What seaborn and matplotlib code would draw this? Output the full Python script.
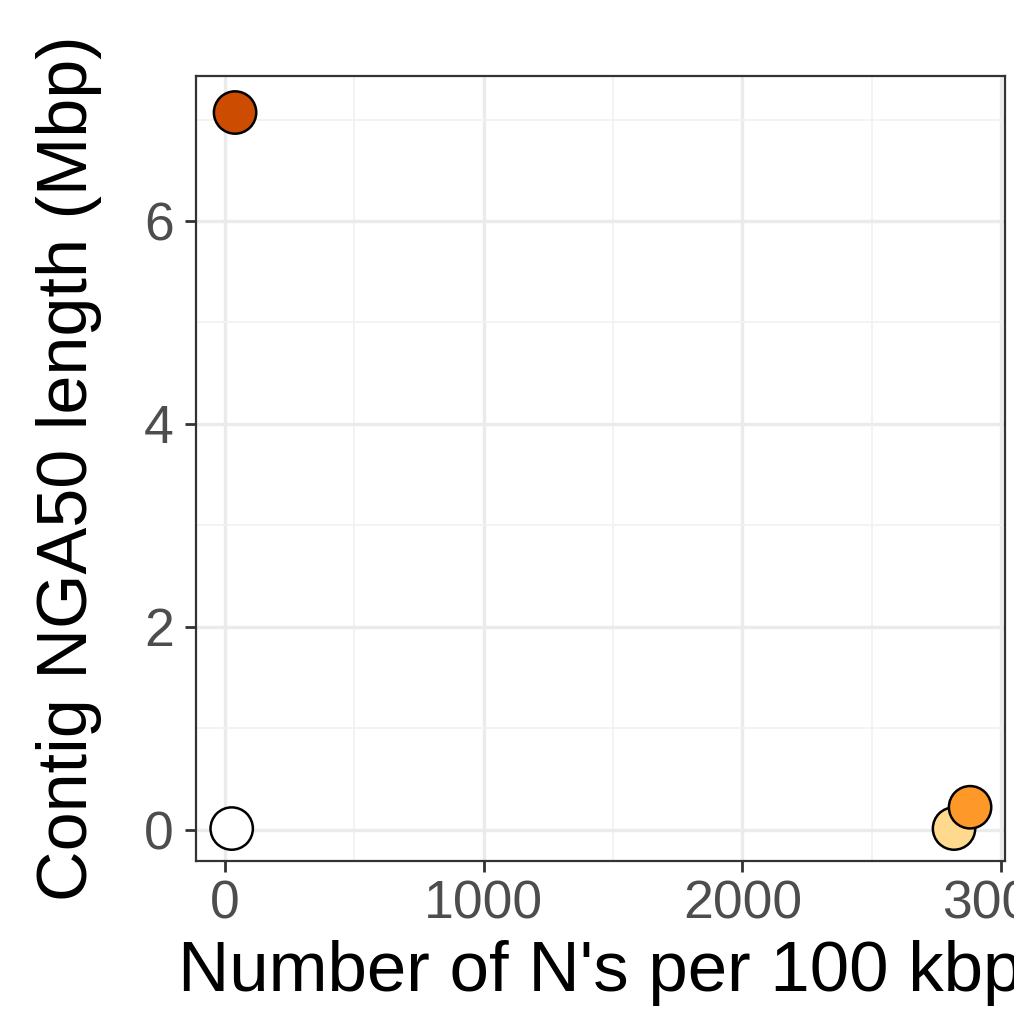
import matplotlib
matplotlib.use("Agg")
import matplotlib.pyplot as plt
import seaborn as sns
import pandas as pd
from matplotlib.ticker import MultipleLocator

# Assembly summary: gap density vs contig NGA50
assembly = ["A", "B", "C", "D"]
n_per_100kbp = [26, 39, 2818, 2880]
nga50_mbp = [0.01, 7.07, 0.01, 0.22]
fill_colors = ["#FFFFFF", "#CC4C02", "#FED98E", "#FE9929"]

df = pd.DataFrame({"assembly": assembly, "ns": n_per_100kbp, "nga50": nga50_mbp})

sns.set_theme(style="white")
plt.rcParams["font.family"] = ["Liberation Sans", "DejaVu Sans"]

fig = plt.figure(figsize=(10.14, 10.11), dpi=100)
W, H = 1014, 1011
ax = fig.add_axes([196 / W, 1 - 861 / H, (1005 - 196) / W, (861 - 76) / H])

sns.scatterplot(data=df, x="ns", y="nga50", hue="assembly", palette=fill_colors,
                s=930, edgecolor="black", linewidth=1.8, legend=False, ax=ax, zorder=3)

ax.set_xlim(-112, 3015)
ax.set_ylim(-0.31, 7.43)
ax.xaxis.set_major_locator(MultipleLocator(1000))
ax.xaxis.set_minor_locator(MultipleLocator(500))
ax.yaxis.set_major_locator(MultipleLocator(2))
ax.yaxis.set_minor_locator(MultipleLocator(1))

ax.grid(which="major", color="#EBEBEB", linewidth=2.4)
ax.grid(which="minor", color="#F2F2F2", linewidth=1.3)
ax.set_axisbelow(True)

for sp in ax.spines.values():
    sp.set_color("#333333")
    sp.set_linewidth(1.6)

ax.tick_params(axis="both", which="major", length=8, width=2, color="#333333",
               labelsize=38.5, labelcolor="#4D4D4D", bottom=True, left=True)
ax.tick_params(axis="y", which="major", pad=8)
ax.tick_params(axis="x", which="major", pad=5)
ax.tick_params(axis="both", which="minor", length=0)

ax.set_xlabel("Number of N's per 100 kbp", fontsize=51, color="black", labelpad=8)
ax.set_ylabel("Contig NGA50 length (Mbp)", fontsize=50.5, color="black", labelpad=30)

fig.savefig("out.png", dpi=100)
